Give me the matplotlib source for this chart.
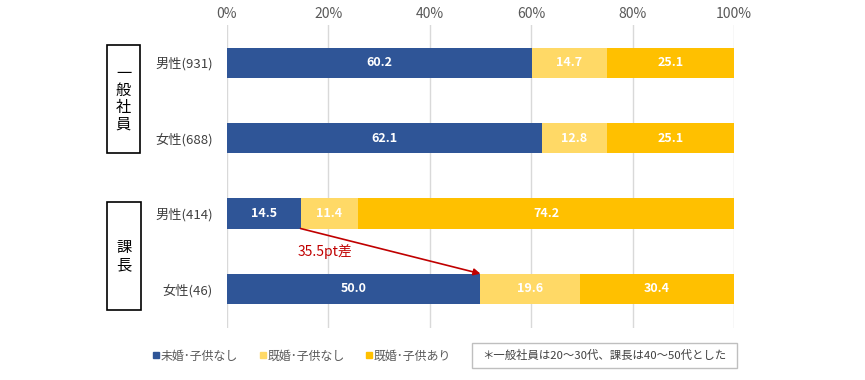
import matplotlib
matplotlib.use("Agg")
import matplotlib.pyplot as plt
from matplotlib.patches import Rectangle
from matplotlib.lines import Line2D

plt.rcParams['font.family'] = ['Noto Sans CJK JP', 'DejaVu Sans']

categories = ["男性(931)", "女性(688)", "男性(414)", "女性(46)"]
series_names = ["未婚･子供なし", "既婚･子供なし", "既婚･子供あり"]
unmarried = [60.2, 62.1, 14.5, 50.0]
married_nokids = [14.7, 12.8, 11.4, 19.6]
married_kids = [25.1, 25.1, 74.2, 30.4]
colors = ["#2F5597", "#FFD966", "#FFC000"]
xticks = [0, 20, 40, 60, 80, 100]
groups = ["一般社員", "課長"]
diff_label = "35.5pt差"
note = "＊一般社員は20～30代、課長は40～50代とした"

fig = plt.figure(figsize=(8.65, 3.8), dpi=100)
ax = fig.add_axes([227/865, 1-328/380, 507/865, 303/380])

y = list(range(len(categories)))
h = 0.40
lefts = [0]*len(categories)
for vals, col in zip([unmarried, married_nokids, married_kids], colors):
    ax.barh(y, vals, left=lefts, height=h, color=col, zorder=3)
    for yi, v, l in zip(y, vals, lefts):
        ax.text(l + v/2, yi, f"{v:.1f}", ha='center', va='center', color='white',
                fontsize=9, fontweight='bold', zorder=4)
    lefts = [a+b for a, b in zip(lefts, vals)]

ax.set_xlim(0, 100)
ax.set_ylim(3.52, -0.5)
ax.set_xticks(xticks)
ax.set_xticklabels([f"{t}%" for t in xticks])
ax.xaxis.tick_top()
ax.tick_params(axis='x', length=0, colors='#595959', labelsize=10, pad=3)
ax.set_yticks(y)
ax.set_yticklabels(categories)
ax.tick_params(axis='y', length=0, colors='#404040', labelsize=9.5, pad=10)
ax.grid(axis='x', color='#D9D9D9', linewidth=1, zorder=0)
for s in ax.spines.values():
    s.set_visible(False)

# arrow from end of 14.5 bar to end of 50.0 bar
ax.annotate("", xy=(unmarried[3], 3 - h/2), xytext=(unmarried[2], 2 + h/2),
            arrowprops=dict(arrowstyle='-|>', color='#C00000', lw=1.2,
                            mutation_scale=10, shrinkA=0, shrinkB=0), zorder=5)
ax.text(14, 2.5, diff_label, color='#C00000', fontsize=10, ha='left', va='center', zorder=5)

# group boxes
def group_box(x0, y0, x1, y1, text):
    fig.patches.append(Rectangle((x0/865, 1-y1/380), (x1-x0)/865, (y1-y0)/380,
                                 transform=fig.transFigure, fill=False,
                                 edgecolor='black', linewidth=1.2))
    fig.text((x0+x1)/2/865, 1-(y0+y1)/2/380, "\n".join(text), ha='center', va='center',
             fontsize=11, linespacing=1.0, color='black')

group_box(107, 45, 140, 153, groups[0])
group_box(107, 202, 141, 310, groups[1])

# legend
handles = [Line2D([0], [0], marker='s', linestyle='none', markersize=4.5,
                  markerfacecolor=c, markeredgecolor=c) for c in colors]
leg = fig.legend(handles, series_names, loc='center left', bbox_to_anchor=(153/865, 1-356/380),
                 ncol=3, frameon=False, fontsize=8.6, handlelength=0.5, handletextpad=0.15,
                 columnspacing=1.8, borderaxespad=0, borderpad=0)
for t in leg.get_texts():
    t.set_color('#595959')

# note box
fig.patches.append(Rectangle((472/865, 1-368/380), 265/865, 25/380, transform=fig.transFigure,
                             fill=False, edgecolor='#BFBFBF', linewidth=1))
fig.text((472+265/2)/865, 1-355.5/380, note, ha='center', va='center', fontsize=8.2, color='#404040')

fig.savefig("out.png", dpi=100)
